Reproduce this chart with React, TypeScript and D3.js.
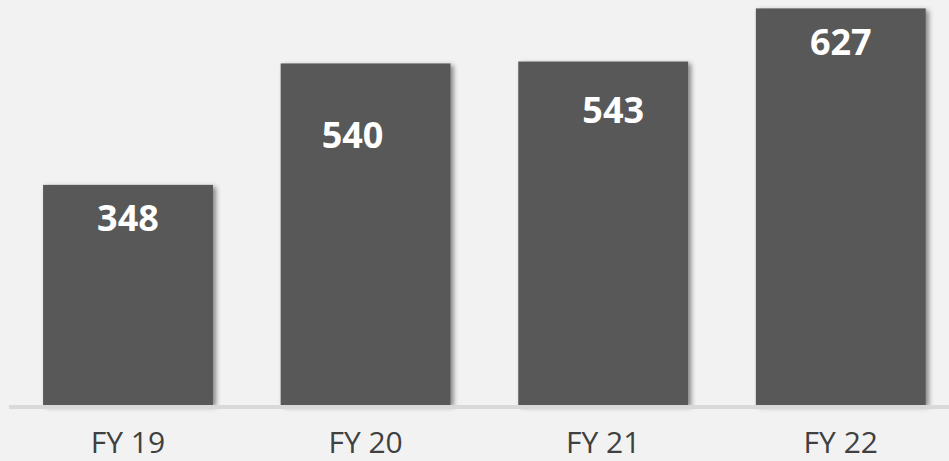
import React from "react";
import * as d3 from "d3";

const categories = ["FY 19", "FY 20", "FY 21", "FY 22"];
const values = [348, 540, 543, 627];

// layout nudges for value labels (manually placed in the original)
const labelDx = [0, -13, 10, 0];
const labelDy = [46, 85, 61, 47];

const W = 949;
const H = 461;

export default function App() {
  const x = d3
    .scaleBand<string>()
    .domain(categories)
    .range([9.2, 959.6])
    .paddingInner(0.285)
    .paddingOuter(0.1425);
  const y = d3.scaleLinear().domain([0, 627]).range([405, 8.4]);

  return (
    <svg
      width={W}
      height={H}
      style={{ position: "absolute", left: 0, top: 0, display: "block" }}
    >
      <defs>
        <filter id="shadow" x="-10%" y="-10%" width="130%" height="130%">
          <feDropShadow dx="3" dy="2" stdDeviation="2.5" floodColor="#000" floodOpacity="0.45" />
        </filter>
      </defs>
      <rect x={0} y={0} width={W} height={H} fill="#f2f2f2" />
      {categories.map((c, i) => (
        <rect
          key={c}
          x={x(c)}
          y={y(values[i])}
          width={x.bandwidth()}
          height={y(0) - y(values[i])}
          fill="#595959"
          filter="url(#shadow)"
        />
      ))}
      <rect x={9} y={405} width={940} height={4} fill="#d9d9d9" />
      {categories.map((c, i) => (
        <text
          key={"v" + c}
          x={(x(c) as number) + x.bandwidth() / 2 + labelDx[i]}
          y={y(values[i]) + labelDy[i]}
          textAnchor="middle"
          fill="#ffffff"
          fontFamily="'Open Sans', sans-serif"
          fontWeight="bold"
          fontSize={36}
        >
          {values[i]}
        </text>
      ))}
      {categories.map((c) => (
        <text
          key={"c" + c}
          x={(x(c) as number) + x.bandwidth() / 2}
          y={453}
          textAnchor="middle"
          fill="#404040"
          fontFamily="'Open Sans', sans-serif"
          fontSize={30}
        >
          {c}
        </text>
      ))}
    </svg>
  );
}
